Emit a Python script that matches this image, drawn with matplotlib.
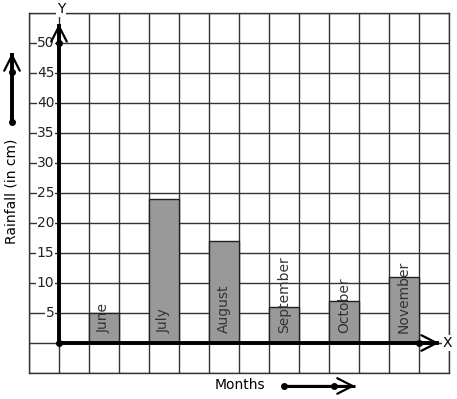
import matplotlib
matplotlib.use("Agg")
import matplotlib.pyplot as plt
from matplotlib.patches import FancyArrowPatch
from matplotlib.lines import Line2D

months = ["June", "July", "August", "September", "October", "November"]
rainfall = [5, 24, 17, 6, 7, 11]
bar_pos = [1.5, 3.5, 5.5, 7.5, 9.5, 11.5]
y_ticks = [5, 10, 15, 20, 25, 30, 35, 40, 45, 50]

W, H = 457, 399
fig = plt.figure(figsize=(W / 100, H / 100), dpi=100)
ax = fig.add_axes([29 / W, (H - 373) / H, 420 / W, 360 / H])
ax.set_xlim(-1, 13)
ax.set_ylim(-5, 55)

# graph paper grid
ax.set_xticks(range(-1, 14))
ax.set_yticks(range(-5, 56, 5))
ax.tick_params(length=0, labelbottom=False, labelleft=False)
ax.grid(True, color="#333333", lw=1.0)
ax.set_axisbelow(True)
for s in ax.spines.values():
    s.set_color("#333333")
    s.set_linewidth(1.0)

ax.bar(bar_pos, rainfall, width=1, color="#999999", edgecolor="#222222", lw=1.0, zorder=2)
for x, m in zip(bar_pos, months):
    ax.text(x, 1.7, m, rotation=90, ha="center", va="bottom", fontsize=10, color="#333333", zorder=3)


def arrow(p0, p1, tr, lw=2.8):
    # thick shaft, thin open chevron head
    fig.add_artist(Line2D([p0[0], p1[0]], [p0[1], p1[1]], transform=tr,
                          lw=lw, color="black", solid_capstyle="butt", zorder=4))
    fig.add_artist(FancyArrowPatch(p0, p1, transform=tr, lw=1.6, color="black",
                                   arrowstyle="->,head_length=0.55,head_width=0.28",
                                   mutation_scale=20, shrinkA=0, shrinkB=0, zorder=4))


# axes with arrows
arrow((0, 0), (0, 53.2), ax.transData)
arrow((0, 0), (12.67, 0), ax.transData)
ax.plot([0, 0, 12], [0, 50, 0], "o", color="black", ms=4, zorder=5)
ax.text(0.07, 55.6, "Y", ha="center", va="center", fontsize=10,
        bbox=dict(facecolor="white", edgecolor="none", pad=0.5), zorder=5)
ax.text(12.95, 0, "X", ha="center", va="center", fontsize=10,
        bbox=dict(facecolor="white", edgecolor="none", pad=0.5), zorder=5)

for t in y_ticks:
    ax.text(-0.15, t, str(t), ha="right", va="center", fontsize=10, color="#222222",
            bbox=dict(facecolor="white", edgecolor="none", pad=0.3), zorder=3)

# side labels with arrows
fig.text(12 / W, 1 - 191 / H, "Rainfall (in cm)", rotation=90, ha="center", va="center", fontsize=10)
fig.text(240 / W, 1 - 385 / H, "Months", ha="center", va="center", fontsize=10)

arrow((12 / W, 1 - 122 / H), (12 / W, 1 - 53 / H), fig.transFigure)
arrow((284 / W, 1 - 386 / H), (355 / W, 1 - 386 / H), fig.transFigure, lw=2.2)
fig.add_artist(Line2D([12 / W, 12 / W], [1 - 122 / H, 1 - 72 / H], transform=fig.transFigure,
                      ls="none", marker="o", ms=4, color="black"))
fig.add_artist(Line2D([284 / W, 334 / W], [1 - 386 / H, 1 - 386 / H], transform=fig.transFigure,
                      ls="none", marker="o", ms=4, color="black"))

fig.savefig("out.png", dpi=100)
